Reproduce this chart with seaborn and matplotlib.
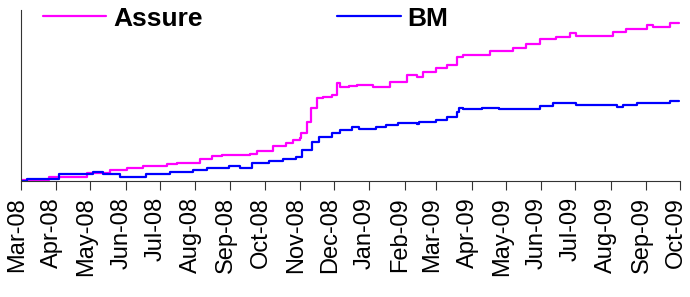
import pandas as pd
import seaborn as sns
import matplotlib.pyplot as plt
import matplotlib.dates as mdates
import matplotlib.transforms as mtransforms

# values (arbitrary index units, 0 = start)
assure_dates = ['2008-03-01', '2008-03-26', '2008-04-10', '2008-04-28', '2008-05-18', '2008-06-02',
                '2008-06-16', '2008-07-07', '2008-07-16', '2008-08-05', '2008-08-16', '2008-08-25',
                '2008-09-18', '2008-09-24', '2008-10-08', '2008-10-20', '2008-10-26', '2008-11-01',
                '2008-11-02', '2008-11-07', '2008-11-11', '2008-11-16', '2008-11-21', '2008-11-29',
                '2008-12-04', '2008-12-06', '2008-12-14', '2008-12-21', '2009-01-04', '2009-01-19',
                '2009-02-03', '2009-02-12', '2009-02-17', '2009-03-01', '2009-03-10', '2009-03-19',
                '2009-03-24', '2009-04-17', '2009-05-07', '2009-05-19', '2009-05-31', '2009-06-14',
                '2009-06-26', '2009-07-02', '2009-08-03', '2009-08-15', '2009-09-02', '2009-09-07',
                '2009-09-19', '2009-09-22', '2009-09-30']
assure_vals = [1, 4, 4, 8, 11, 13, 15, 17, 18, 22, 25, 26, 27, 30, 35, 38, 41, 43,
               48, 59, 73, 83, 84, 86, 98, 94, 95, 96, 94, 99, 106, 104, 109, 113, 116, 124,
               126, 130, 133, 137, 142, 144, 148, 145, 149, 152, 156, 154, 154, 158, 158]

bm_dates = ['2008-03-01', '2008-03-06', '2008-03-26', '2008-04-03', '2008-04-30', '2008-05-03',
            '2008-05-12', '2008-05-27', '2008-06-19', '2008-07-10', '2008-07-30', '2008-08-11',
            '2008-08-31', '2008-09-09', '2008-09-20', '2008-10-05', '2008-10-17', '2008-10-29',
            '2008-11-03', '2008-11-12', '2008-11-18', '2008-11-27', '2008-11-29', '2008-12-06',
            '2008-12-17', '2008-12-23', '2009-01-07', '2009-01-16', '2009-01-26', '2009-02-12',
            '2009-02-14', '2009-03-01', '2009-03-10', '2009-03-19', '2009-03-21', '2009-03-24',
            '2009-04-10', '2009-04-25', '2009-05-25', '2009-05-31', '2009-06-11', '2009-06-29',
            '2009-07-02', '2009-08-01', '2009-08-07', '2009-08-12', '2009-08-24', '2009-09-19',
            '2009-09-22', '2009-09-30']
bm_vals = [0, 2, 2, 7, 7, 9, 7, 4, 7, 9, 11, 13, 15, 13, 18, 20, 22, 24, 31, 39, 44, 44,
           48, 51, 54, 52, 54, 56, 58, 57, 59, 61, 64, 69, 73, 72, 73, 72, 72, 75, 78, 78,
           76, 76, 74, 76, 78, 78, 80, 80]

df = pd.concat([
    pd.DataFrame({'date': pd.to_datetime(assure_dates), 'value': assure_vals, 'series': 'Assure'}),
    pd.DataFrame({'date': pd.to_datetime(bm_dates), 'value': bm_vals, 'series': 'BM'}),
])

sns.set_style('white')
plt.rcParams['font.family'] = ['Liberation Sans', 'DejaVu Sans']
plt.rcParams['text.color'] = 'black'
plt.rcParams['xtick.color'] = 'black'

fig = plt.figure(figsize=(6.9, 2.97), dpi=100)
ax = fig.add_axes([0.0304, 0.3906, 0.9551, 0.5754])

sns.lineplot(data=df, x='date', y='value', hue='series',
             palette={'Assure': '#FF00FF', 'BM': '#0000FF'}, linewidth=1.6,
             drawstyle='steps-post', ax=ax)

ax.set_xlim(pd.Timestamp('2008-03-01'), pd.Timestamp('2009-10-01'))
ax.set_ylim(0, 171)
ax.xaxis.set_major_locator(mdates.MonthLocator())
ax.xaxis.set_major_formatter(mdates.DateFormatter('%b-%y'))
ax.tick_params(axis='x', direction='out', length=6.5, width=0.8, color='#333333',
               labelsize=17, labelcolor='black', rotation=90, pad=5, bottom=True)
# nudge the rotated labels a little left of their ticks, as in the original
shift = mtransforms.ScaledTranslation(-3 / 72, 0, fig.dpi_scale_trans)
for lbl in ax.get_xticklabels():
    lbl.set_transform(lbl.get_transform() + shift)
ax.set_yticks([])
ax.set_xlabel('')
ax.set_ylabel('')
for side in ['top', 'right']:
    ax.spines[side].set_visible(False)
for side in ['left', 'bottom']:
    ax.spines[side].set_color('#333333')
    ax.spines[side].set_linewidth(0.8)

leg = ax.legend(loc='center left', bbox_to_anchor=(0.033, 0.95), ncol=2, frameon=False,
                handlelength=2.4, columnspacing=5.1, handletextpad=0.27,
                borderpad=0, borderaxespad=0,
                prop={'size': 19, 'weight': 'bold'})
for line in leg.get_lines():
    line.set_linewidth(1.6)

plt.savefig('out.png', dpi=100)
